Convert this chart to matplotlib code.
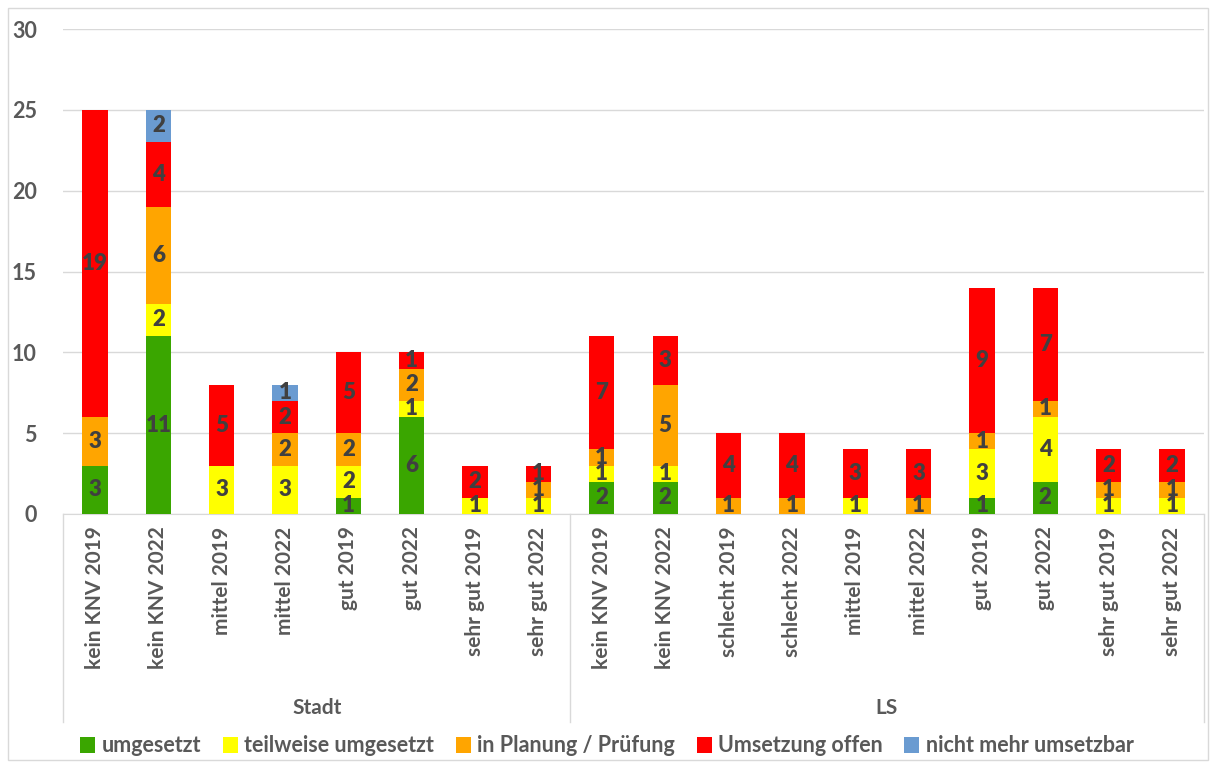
import matplotlib
matplotlib.use("Agg")
import matplotlib.pyplot as plt
import numpy as np
from matplotlib.patches import Rectangle
from matplotlib.transforms import blended_transform_factory

categories = ["kein KNV 2019", "kein KNV 2022", "mittel 2019", "mittel 2022",
              "gut 2019", "gut 2022", "sehr gut 2019", "sehr gut 2022",
              "kein KNV 2019", "kein KNV 2022", "schlecht 2019", "schlecht 2022",
              "mittel 2019", "mittel 2022", "gut 2019", "gut 2022",
              "sehr gut 2019", "sehr gut 2022"]
groups = ["Stadt", "LS"]
group_sizes = [8, 10]

series_names = ["umgesetzt", "teilweise umgesetzt", "in Planung / Prüfung",
                "Umsetzung offen", "nicht mehr umsetzbar"]
umgesetzt = [3, 11, 0, 0, 1, 6, 0, 0, 2, 2, 0, 0, 0, 0, 1, 2, 0, 0]
teilweise = [0, 2, 3, 3, 2, 1, 1, 1, 1, 1, 0, 0, 1, 0, 3, 4, 1, 1]
planung = [3, 6, 0, 2, 2, 2, 0, 1, 1, 5, 1, 1, 0, 1, 1, 1, 1, 1]
offen = [19, 4, 5, 2, 5, 1, 2, 1, 7, 3, 4, 4, 3, 3, 9, 7, 2, 2]
nicht_mehr = [0, 2, 0, 1, 0, 0, 0, 0, 0, 0, 0, 0, 0, 0, 0, 0, 0, 0]
series = [umgesetzt, teilweise, planung, offen, nicht_mehr]
colors = ["#3AA600", "#FFFF00", "#FFA500", "#FF0000", "#6A9BD1"]

W, H = 1214, 767
fig = plt.figure(figsize=(W / 100, H / 100), dpi=100)
fig.patch.set_facecolor("white")
fig.add_artist(Rectangle((8 / W, 7 / H), 1200 / W, 752 / H, transform=fig.transFigure,
                         fill=False, edgecolor="#D9D9D9", linewidth=1))

ax = fig.add_axes([63.3 / W, 1 - 514 / H, (1203.7 - 63.3) / W, (514 - 29) / H])
font = "Lato"
txtcol = "#595959"

x = np.arange(len(categories))
bottom = np.zeros(len(categories))
for name, vals, col in zip(series_names, series, colors):
    vals = np.array(vals, dtype=float)
    ax.bar(x, vals, 0.4, bottom=bottom, color=col, label=name, zorder=3)
    for xi, b, v in zip(x, bottom, vals):
        if v > 0:
            ax.text(xi, b + v / 2, f"{int(v)}", ha="center", va="center",
                    fontsize=16, fontweight="heavy", color="#404040",
                    family=font, zorder=4)
    bottom += vals

ax.set_xlim(-0.5, len(categories) - 0.5)
ax.set_ylim(0, 30)
ax.set_yticks(range(0, 31, 5))
ax.yaxis.grid(True, color="#D9D9D9", linewidth=1, zorder=0)
ax.set_axisbelow(True)
for s in ["top", "right", "left"]:
    ax.spines[s].set_visible(False)
ax.spines["bottom"].set_color("#D9D9D9")
ax.tick_params(axis="y", length=0, pad=19, labelsize=15.5, labelcolor=txtcol)
for lab in ax.get_yticklabels():
    lab.set_fontweight("bold")
    lab.set_family(font)
ax.set_xticks(x)
ax.set_xticklabels(categories, rotation=90, fontsize=15, color=txtcol,
                   family=font, fontweight="bold")
ax.tick_params(axis="x", length=0, pad=9)

# group separators and labels
tr = blended_transform_factory(ax.transData, ax.transAxes)
line_bottom = -(722 - 514) / (514 - 29)
edges = [-0.5]
acc = -0.5
for n in group_sizes:
    acc += n
    edges.append(acc)
for e in edges:
    ax.plot([e, e], [0, line_bottom], transform=tr, color="#D9D9D9",
            linewidth=1, clip_on=False)
start = -0.5
for g, n in zip(groups, group_sizes):
    ax.text(start + n / 2, -(708 - 514) / (514 - 29), g, transform=tr,
            ha="center", va="center", fontsize=15, fontweight="bold",
            color=txtcol, family=font)
    start += n

leg = fig.legend(loc="center", bbox_to_anchor=(0.5, 1 - 746 / H), ncol=5,
                 frameon=False, handlelength=0.7, handleheight=0.7,
                 handletextpad=0.3, columnspacing=1.0,
                 prop={"family": font, "size": 15.5, "weight": "bold"})
for t in leg.get_texts():
    t.set_color(txtcol)

fig.savefig("out.png", dpi=100)
